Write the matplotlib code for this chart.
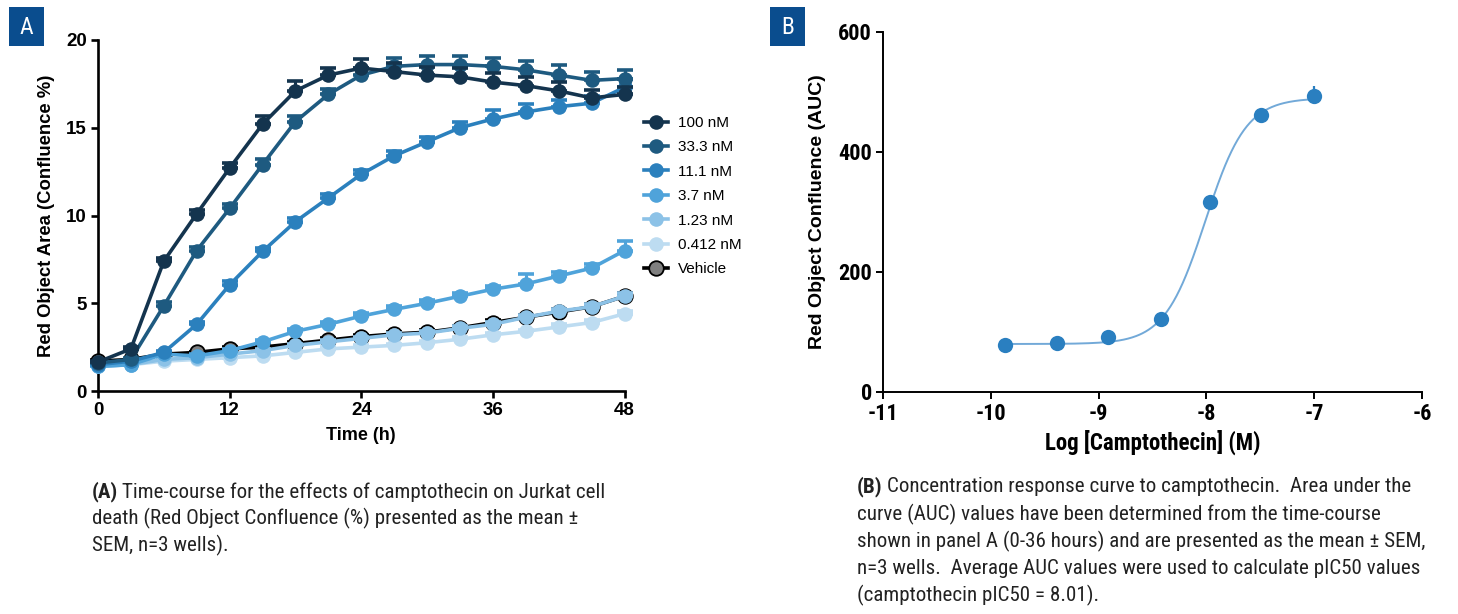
import numpy as np
import matplotlib
matplotlib.use("Agg")
import matplotlib.pyplot as plt
import matplotlib.font_manager as fm
from matplotlib.patches import Rectangle
from matplotlib.lines import Line2D

names = {f.name for f in fm.fontManager.ttflist}
ARIAL = "Liberation Sans"
NARROW = ARIAL
for cand in ["Liberation Sans Narrow", "Roboto Condensed", "Open Sans Condensed",
             "DejaVu Sans Condensed", "Noto Sans Condensed"]:
    if cand in names:
        NARROW = cand
        break
CAPF = NARROW

# ---------------- data: panel A ----------------
time_h = [0, 3, 6, 9, 12, 15, 18, 21, 24, 27, 30, 33, 36, 39, 42, 45, 48]
series_labels = ["100 nM", "33.3 nM", "11.1 nM", "3.7 nM", "1.23 nM", "0.412 nM", "Vehicle"]
conf_100 = [1.65, 2.4, 7.4, 10.1, 12.7, 15.2, 17.1, 18.0, 18.4, 18.2, 18.0, 17.9, 17.6, 17.4, 17.1, 16.7, 16.9]
conf_33 = [1.6, 1.8, 4.85, 8.0, 10.4, 12.9, 15.35, 16.9, 18.0, 18.5, 18.6, 18.6, 18.5, 18.3, 18.0, 17.7, 17.8]
conf_11 = [1.5, 1.7, 2.2, 3.8, 6.05, 7.95, 9.65, 11.0, 12.35, 13.4, 14.2, 15.0, 15.5, 15.9, 16.2, 16.4, 17.3]
conf_3_7 = [1.4, 1.5, 2.1, 2.0, 2.3, 2.8, 3.4, 3.8, 4.27, 4.65, 5.0, 5.4, 5.8, 6.1, 6.55, 7.0, 8.0]
conf_1_23 = [1.4, 1.5, 1.8, 1.9, 2.1, 2.3, 2.6, 2.8, 3.0, 3.2, 3.3, 3.57, 3.8, 4.2, 4.55, 4.8, 5.4]
conf_0_412 = [1.4, 1.5, 1.7, 1.8, 1.9, 2.0, 2.2, 2.4, 2.5, 2.6, 2.75, 2.95, 3.2, 3.4, 3.65, 3.9, 4.4]
conf_vehicle = [1.7, 1.8, 2.1, 2.2, 2.4, 2.5, 2.7, 2.9, 3.1, 3.25, 3.35, 3.6, 3.9, 4.2, 4.5, 4.8, 5.4]

sem_100 = [0.05, 0.1, 0.2, 0.2, 0.3, 0.45, 0.55, 0.4, 0.5, 0.5, 0.45, 0.5, 0.5, 0.5, 0.5, 0.45, 0.45]
sem_33 = [0.05, 0.1, 0.2, 0.2, 0.25, 0.3, 0.3, 0.3, 0.4, 0.45, 0.5, 0.5, 0.5, 0.5, 0.55, 0.5, 0.5]
sem_11 = [0.05, 0.05, 0.1, 0.15, 0.2, 0.2, 0.2, 0.25, 0.25, 0.3, 0.3, 0.35, 0.5, 0.45, 0.4, 0.4, 0.5]
sem_3_7 = [0.05, 0.05, 0.1, 0.1, 0.1, 0.1, 0.15, 0.15, 0.15, 0.2, 0.2, 0.2, 0.2, 0.55, 0.25, 0.25, 0.55]
sem_1_23 = [0.05, 0.05, 0.05, 0.05, 0.1, 0.1, 0.1, 0.1, 0.1, 0.1, 0.1, 0.15, 0.15, 0.15, 0.15, 0.15, 0.2]
sem_0_412 = [0.05, 0.05, 0.05, 0.05, 0.1, 0.1, 0.1, 0.1, 0.1, 0.1, 0.1, 0.1, 0.1, 0.1, 0.15, 0.15, 0.15]
sem_vehicle = [0.05, 0.05, 0.05, 0.05, 0.1, 0.1, 0.1, 0.1, 0.1, 0.1, 0.1, 0.1, 0.15, 0.15, 0.15, 0.15, 0.2]

series_values = [conf_100, conf_33, conf_11, conf_3_7, conf_1_23, conf_0_412, conf_vehicle]
series_sem = [sem_100, sem_33, sem_11, sem_3_7, sem_1_23, sem_0_412, sem_vehicle]
series_colors = ["#14344e", "#1e5a80", "#2b80bd", "#4fa3da", "#8cc2e7", "#bddcf1", "#808080"]
series_lines = ["#14344e", "#1e5a80", "#2b80bd", "#4fa3da", "#8cc2e7", "#bddcf1", "#000000"]

# ---------------- data: panel B ----------------
log_conc = [-9.87, -9.39, -8.91, -8.42, -7.97, -7.49, -7.0]
auc_mean = [78, 82, 92, 121, 316, 461, 494]
auc_sem = [3, 3, 4, 4, 5, 5, 16]
fit_bottom, fit_top, fit_logic50, fit_hill = 80.0, 490.0, -8.01, 2.3

# ---------------- figure ----------------
W, H = 1458, 614
fig = plt.figure(figsize=(W / 100, H / 100), dpi=100)
fig.patch.set_facecolor("white")

def fx(px):
    return px / W

def fy(py):
    return 1 - py / H

# ---------------- panel A ----------------
axA = fig.add_axes([fx(98), fy(391), fx(624.5) - fx(98), fy(40) - fy(391)])
n = len(series_labels)
for i in reversed(range(n)):
    vals = np.array(series_values[i])
    sem = np.array(series_sem[i])
    z = 10 + (n - i)
    is_veh = series_labels[i] == "Vehicle"
    edge = "#000000" if is_veh else series_colors[i]
    axA.errorbar(time_h, vals, yerr=[np.zeros_like(sem), sem], fmt="none",
                 ecolor=series_lines[i], elinewidth=2.2, capsize=5.5, capthick=2.6,
                 zorder=z, clip_on=False)
    axA.plot(time_h, vals, color=series_lines[i], lw=2.6, marker="o", ms=10.5,
             mfc=series_colors[i], mec=edge, mew=1.3 if is_veh else 0,
             zorder=z, clip_on=False)

axA.set_xlim(0, 48)
axA.set_ylim(0, 20)
axA.set_xticks([0, 12, 24, 36, 48])
axA.set_yticks([0, 5, 10, 15, 20])
for s in ["top", "right"]:
    axA.spines[s].set_visible(False)
for s in ["left", "bottom"]:
    axA.spines[s].set_linewidth(1.9)
axA.tick_params(axis="both", direction="out", length=5, width=1.9, pad=3, labelsize=13.5)
for lab in axA.get_xticklabels() + axA.get_yticklabels():
    lab.set_fontfamily(ARIAL)
    lab.set_fontweight("bold")
axA.set_xlabel("Time (h)", fontfamily=ARIAL, fontweight="bold", fontsize=13, labelpad=6)
axA.set_ylabel("Red Object Area (Confluence %)", fontfamily=ARIAL, fontweight="bold",
               fontsize=13.3, labelpad=8)

handles = []
for i in range(n):
    is_veh = series_labels[i] == "Vehicle"
    edge = "#000000" if is_veh else series_colors[i]
    handles.append(Line2D([0], [0], color=series_lines[i], lw=2.6, marker="o", ms=10.5,
                          mfc=series_colors[i], mec=edge, mew=1.3 if is_veh else 0))
leg = fig.legend(handles, series_labels, loc="upper left", bbox_to_anchor=(fx(644), fy(116)),
                 frameon=False, handlelength=1.6, handletextpad=0.6, labelspacing=0.68,
                 prop={"family": ARIAL, "size": 11}, borderaxespad=0, borderpad=0)

# ---------------- panel B ----------------
axB = fig.add_axes([fx(883), fy(392), fx(1422) - fx(883), fy(32) - fy(392)])
xfit = np.linspace(min(log_conc), max(log_conc), 300)
yfit = fit_bottom + (fit_top - fit_bottom) / (1 + 10 ** ((fit_logic50 - xfit) * fit_hill))
axB.plot(xfit, yfit, color="#72a9d8", lw=1.4, zorder=2)
axB.errorbar(log_conc, auc_mean, yerr=[np.zeros(len(auc_sem)), auc_sem], fmt="o", color="#2a7fc0",
             ms=11, mew=0, elinewidth=1.6, capsize=5, capthick=1.6, zorder=3)
axB.set_xlim(-11, -6)
axB.set_ylim(0, 600)
axB.set_xticks([-11, -10, -9, -8, -7, -6])
axB.set_xticklabels(["-11", "-10", "-9", "-8", "-7", "-6"])
axB.set_yticks([0, 200, 400, 600])
for s in ["top", "right"]:
    axB.spines[s].set_visible(False)
for s in ["left", "bottom"]:
    axB.spines[s].set_linewidth(1.4)
axB.tick_params(axis="both", direction="out", length=5, width=1.4, pad=3, labelsize=16)
for lab in axB.get_xticklabels() + axB.get_yticklabels():
    lab.set_fontfamily(NARROW)
    lab.set_fontweight("bold")
axB.set_xlabel("Log [Camptothecin] (M)", fontfamily=NARROW, fontweight="bold", fontsize=16.5, labelpad=3)
axB.set_ylabel("Red Object Confluence (AUC)", fontfamily=ARIAL, fontweight="bold",
               fontsize=14, labelpad=9)

# ---------------- panel letters ----------------
for (x0, x1, y0, y1, letter) in [(9, 44, 7, 46, "A"), (770, 805, 7, 46, "B")]:
    fig.patches.append(Rectangle((fx(x0), fy(y1)), fx(x1) - fx(x0), fy(y0) - fy(y1),
                                 transform=fig.transFigure, facecolor="#0a4d8e", edgecolor="none"))
    fig.text(fx((x0 + x1) / 2), fy((y0 + y1) / 2 + 1), letter, color="white", fontsize=17,
             fontfamily=NARROW, ha="center", va="center")

# ---------------- captions ----------------
capA = ["Time-course for the effects of camptothecin on Jurkat cell",
        "death (Red Object Confluence (%) presented as the mean \u00b1",
        "SEM, n=3 wells)."]
capB = ["Concentration response curve to camptothecin.  Area under the",
        "curve (AUC) values have been determined from the time-course",
        "shown in panel A (0-36 hours) and are presented as the mean \u00b1 SEM,",
        "n=3 wells.  Average AUC values were used to calculate pIC50 values",
        "(camptothecin pIC50 = 8.01)."]

fig.canvas.draw()
renderer = fig.canvas.get_renderer()

def line_width(tag, line, size):
    t1 = fig.text(0, 0, tag, fontsize=size, fontfamily=CAPF, fontweight="bold")
    t2 = fig.text(0, 0, line, fontsize=size, fontfamily=CAPF)
    w = t1.get_window_extent(renderer).width + 4 + t2.get_window_extent(renderer).width
    t1.remove()
    t2.remove()
    return w

sA = 10 * 513 / line_width("(A)", capA[0], 10)
sB = 10 * 561 / line_width("(B)", capB[0], 10)
CAPSIZE = min(sA, sB)

def caption(x0, y0, tag, lines, step):
    t = fig.text(fx(x0), fy(y0), tag, fontsize=CAPSIZE, fontfamily=CAPF, fontweight="bold",
                 ha="left", va="center", color="#222222")
    bb = t.get_window_extent(renderer)
    for k, line in enumerate(lines):
        xs = bb.x1 / W + fx(4) if k == 0 else fx(x0)
        fig.text(xs, fy(y0 + k * step), line, fontsize=CAPSIZE, fontfamily=CAPF,
                 ha="left", va="center", color="#222222")

caption(92, 492, "(A)", capA, 26.5)
caption(857, 487, "(B)", capB, 27)

fig.savefig("out.png", dpi=100, facecolor="white")
